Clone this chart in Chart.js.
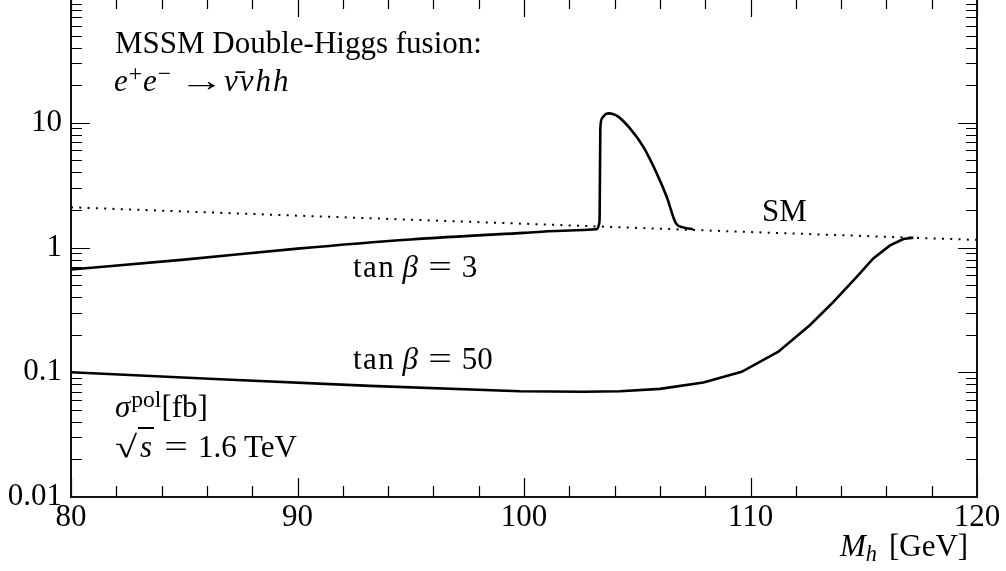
<!DOCTYPE html>
<html>
<head>
<meta charset="utf-8">
<script src="https://cdn.jsdelivr.net/npm/chart.js@4.4.1/dist/chart.umd.min.js"></script>
<style>
  html, body { margin: 0; padding: 0; background: #fff; overflow: hidden; }
  #wrap { position: relative; width: 1006px; height: 571px; overflow: hidden; }
  #chart { position: absolute; left: 0; top: -2px; }
  .lbl { position: absolute; font-family: "Liberation Serif", "Times New Roman", serif; font-size: 31px; line-height: 31px; color: #000; white-space: nowrap; }
  .lbl i { font-style: italic; }
  .sup { position: relative; top: -0.42em; font-size: 0.76em; }
  .sub { position: relative; top: 0.22em; font-size: 0.72em; font-style: italic; }
  .eq { display: inline-block; width: 24px; margin: 0 10px; text-align: center; transform: scaleX(1.35); }
  .arrow { display: inline-block; width: 29px; margin: 0 9px 0 15px; text-align: center; transform: scaleX(1.45); }
  .tan { letter-spacing: 1.5px; }
</style>
</head>
<body>
<div id="wrap">
  <canvas id="chart" width="1006" height="573"></canvas>
  <div class="lbl" style="left:115px; top:27px;">MSSM Double-Higgs fusion:</div>
  <div class="lbl" style="left:114px; top:65px;"><i>e</i><span class="sup" style="margin:0 1px">+</span><i>e</i><span class="sup" style="margin-left:1px">−</span><span class="arrow">→</span><i style="letter-spacing:2px">ν̄νhh</i></div>
  <div class="lbl" style="left:762px; top:195px;">SM</div>
  <div class="lbl" style="left:353px; top:251px;"><span class="tan">tan</span><i style="margin-left:7px">β</i><span class="eq">=</span>3</div>
  <div class="lbl" style="left:353px; top:343px;"><span class="tan">tan</span><i style="margin-left:7px">β</i><span class="eq">=</span>50</div>
  <div class="lbl" style="left:115px; top:391px;"><i>σ</i><span class="sup" style="margin-left:1px">pol</span>[fb]</div>
  <div class="lbl" style="left:115px; top:431px;"><span style="display:inline-block; width:23px; transform:scaleX(1.3); transform-origin:left;">√</span><i style="border-top:2px solid #000; padding:0 2px;">s</i><span class="eq">=</span>1.6 TeV</div>
  <div class="lbl" style="left:840px; top:530px;"><i>M</i><span class="sub">h</span><span style="margin-left:12px">[GeV]</span></div>
</div>
<script>
// SM reference curve (dotted)
const smMass = [80, 90, 100, 110, 120];
const smXsec = [2.10, 1.80, 1.55, 1.33, 1.15];

// tan beta = 3, with the resonance spike around 103-107 GeV
const tb3Mass = [80, 85, 90, 95, 100, 102, 103.2, 103.32, 103.34, 103.37, 103.45, 103.6, 103.77, 103.95, 104.16,
                 104.68, 105.27, 105.86, 106.3, 106.71, 107.03, 107.47];
const tb3Xsec = [0.667, 0.80, 0.98, 1.16, 1.31, 1.37, 1.40, 1.56, 1.8, 9.0, 10.9, 11.7, 11.9, 11.7, 11.2,
                 9.0, 6.4, 3.93, 2.55, 1.56, 1.45, 1.40];

// tan beta = 50
const tb50Mass = [80, 86.58, 93.2, 99.82, 102.62, 104.24, 106.0, 107.92, 109.61, 111.23, 112.63, 113.66,
                  114.69, 115.42, 116.16, 116.75, 117.19];
const tb50Xsec = [0.100, 0.088, 0.0778, 0.0705, 0.0697, 0.0705, 0.0736, 0.0828, 0.1007, 0.146, 0.239, 0.367,
                  0.582, 0.817, 1.04, 1.17, 1.20];

const xMin = 80, xMax = 120, xStep = 2;
const xLabels = [80, 90, 100, 110, 120];
const yDecades = [0.01, 0.1, 1, 10, 100];
const yLabels = ['0.01', '0.1', '1', '10'];

function toPoints(xs, ys) {
  return xs.map((x, i) => ({ x, y: ys[i] }));
}

function yTickValues() {
  const vals = [];
  for (let d = 0; d < yDecades.length - 1; d++) {
    for (let k = 1; k <= 9; k++) vals.push(+(yDecades[d] * k).toPrecision(3));
  }
  vals.push(yDecades[yDecades.length - 1]);
  return vals;
}

// frame + inward ticks on all four sides
const frameTicks = {
  id: 'frameTicks',
  afterDraw(chart) {
    const { ctx, chartArea: a, scales } = chart;
    const xs = scales.x, ys = scales.y;
    ctx.save();
    ctx.strokeStyle = '#000';
    ctx.lineWidth = 1.2;
    ctx.beginPath();
    for (let v = xMin; v <= xMax; v += xStep) {
      const px = Math.round(xs.getPixelForValue(v)) + 0.5;
      const len = v % 10 === 0 ? 19 : 11;
      ctx.moveTo(px, a.bottom); ctx.lineTo(px, a.bottom - len);
      ctx.moveTo(px, a.top); ctx.lineTo(px, a.top + len);
    }
    yTickValues().forEach(v => {
      const py = Math.round(ys.getPixelForValue(v)) + 0.5;
      const len = yDecades.includes(v) ? 19 : 11;
      ctx.moveTo(a.left, py); ctx.lineTo(a.left + len, py);
      ctx.moveTo(a.right, py); ctx.lineTo(a.right - len, py);
    });
    ctx.stroke();
    ctx.lineWidth = 2;
    ctx.strokeStyle = '#111';
    ctx.strokeRect(a.left, a.top, a.right - a.left, a.bottom - a.top);
    ctx.restore();
  }
};

const tickFont = { family: '"Liberation Serif", "Times New Roman", serif', size: 31 };

new Chart(document.getElementById('chart'), {
  type: 'line',
  data: {
    datasets: [
      { label: 'SM', data: toPoints(smMass, smXsec), borderColor: '#000', borderWidth: 2,
        borderDash: [2, 6.3], borderCapStyle: 'butt', pointRadius: 0, tension: 0 },
      { label: 'tanβ=3', data: toPoints(tb3Mass, tb3Xsec), borderColor: '#000', borderWidth: 2.6,
        pointRadius: 0, cubicInterpolationMode: 'monotone' },
      { label: 'tanβ=50', data: toPoints(tb50Mass, tb50Xsec), borderColor: '#000', borderWidth: 2.6,
        pointRadius: 0, tension: 0 }
    ]
  },
  options: {
    responsive: false,
    animation: false,
    layout: { padding: { left: 0, right: 29, top: 0, bottom: 0 } },
    plugins: { legend: { display: false }, tooltip: { enabled: false } },
    scales: {
      x: {
        type: 'linear', min: xMin, max: xMax,
        grid: { display: false, drawTicks: false }, border: { display: false },
        ticks: {
          stepSize: xStep, autoSkip: false, maxRotation: 0, padding: 2,
          color: '#000', font: tickFont,
          callback: v => xLabels.includes(v) ? String(v) : ''
        },
        afterFit: s => { s.height = 74; s.paddingLeft = 0; s.paddingRight = 0; }
      },
      y: {
        type: 'logarithmic', min: 0.01, max: 100,
        grid: { display: false, drawTicks: false }, border: { display: false },
        afterBuildTicks: s => { s.ticks = yTickValues().map(v => ({ value: v })); },
        ticks: {
          autoSkip: false, padding: 9, color: '#000', font: tickFont,
          callback: v => {
            const i = yDecades.indexOf(+(+v).toPrecision(3));
            return i >= 0 && i < yLabels.length ? yLabels[i] : '';
          }
        },
        afterFit: s => { s.width = 71; s.paddingTop = 0; s.paddingBottom = 0; }
      }
    }
  },
  plugins: [frameTicks]
});
</script>
</body>
</html>
